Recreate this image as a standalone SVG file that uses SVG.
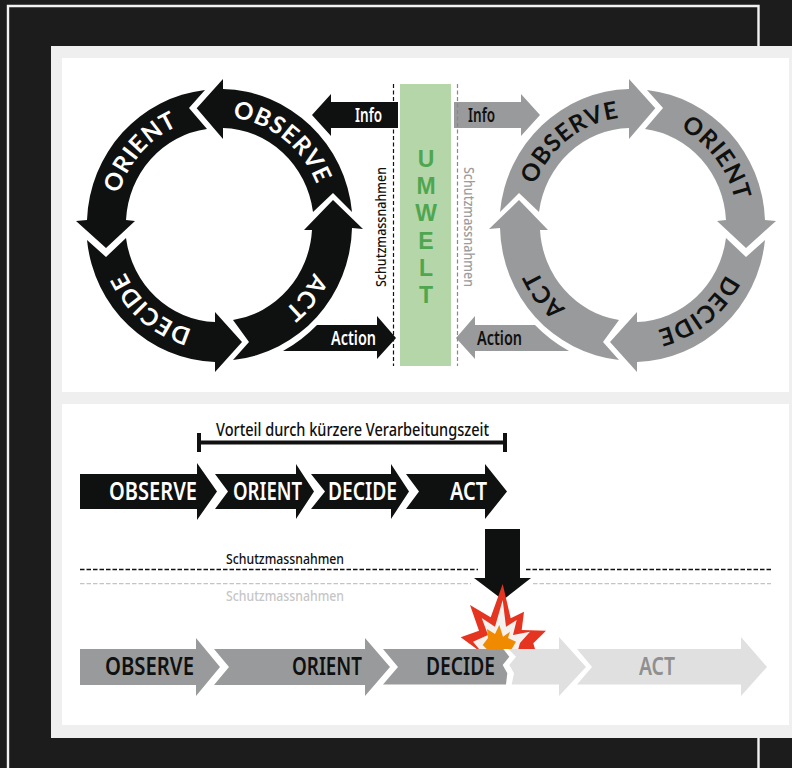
<svg xmlns="http://www.w3.org/2000/svg" width="792" height="768" viewBox="0 0 792 768">
<style>
text{font-family:"Noto Sans","Liberation Sans",sans-serif}
.ring{font-family:Lato,"Noto Sans",sans-serif;font-size:24px;font-weight:700;letter-spacing:0.800px;text-anchor:middle}
.lab{font-size:19px;font-weight:600}
.chain{font-size:25px;font-weight:600}
.prot{font-size:14px;font-weight:500}
.k{fill:#0f1010}.g{fill:#999a9b}.l{fill:#e0e0e0}.w{fill:#fff}
.um{font-family:"Liberation Sans",Arial,sans-serif;font-size:23px;font-weight:700;fill:#4fa650;text-anchor:middle}
</style>
<defs>
<path id="rl" d="M219.500,117A105,108 0 1 1 219.500,333A105,108 0 1 1 219.500,117Z"/>
<path id="rr" d="M632.500,117A105,108 0 1 1 632.500,333A105,108 0 1 1 632.500,117Z"/>
<path id="sObs" d="M196.700,108.300L223,79L223,89A133,136 0 0 1 352,212L333,193L313,212A93,97 0 0 0 223,128L223,139Z"/>
<path id="sOri" d="M189,108L205,90A133,136 0 0 0 87,220L76,221L106,248L135,221L126,220A93,97 0 0 1 207,129Z"/>
<path id="sDec" d="M87,240L106,257L126,238A93,97 0 0 0 215,322L215,312L242,342L215,372L215,362A133,136 0 0 1 87,240Z"/>
<path id="sAct" d="M233,320L249,342L233,360A133,136 0 0 0 352,228L363,229L333,200L304,230L312,230A93,97 0 0 1 233,320Z"/>
<path id="aInfo" d="M312,115L331,94L331,102L398,102L398,128L331,128L331,136Z"/>
<path id="aAction" d="M283,351A141,144 0 0 0 317,325L377,325L377,316L396,338L377,359L377,351Z"/>
</defs>
<rect width="792" height="768" fill="#1c1c1c"/>
<path d="M8,768V6H758.500V46M758.500,738V768" fill="none" stroke="#f2f2f2" stroke-width="2.400"/>
<rect x="51" y="46" width="741" height="692" fill="#efefef"/>
<rect x="62" y="58" width="727" height="334" class="w"/>
<rect x="62" y="404" width="727" height="321" class="w"/>

<g id="connectors">
<g id="info-left" class="k"><use href="#aInfo"/></g>
<g id="action-left" class="k"><use href="#aAction"/></g>
<g id="info-right" class="g"><use href="#aInfo" transform="translate(852,0) scale(-1,1)"/></g>
<g id="action-right" class="g"><use href="#aAction" transform="translate(852,0) scale(-1,1)"/></g>
<path d="M393.500,84V366" stroke="#111" stroke-width="1.200" stroke-dasharray="4 2.500" fill="none"/>
<path d="M457.500,84V366" stroke="#888" stroke-width="1.200" stroke-dasharray="4 2.500" fill="none"/>
<path d="M80,569.500H478M526,569.500H771" stroke="#111" stroke-width="1.300" stroke-dasharray="4.500 2" fill="none"/>
<path d="M80,583.700H471M533,583.700H771" stroke="#c4c4c4" stroke-width="1.300" stroke-dasharray="4.500 2" fill="none"/>
<path id="bracket" d="M199,433V452M199,442.500H505M505,433V452" stroke="#111" stroke-width="4" fill="none"/>
</g>
<text class="lab w" x="355" y="122" textLength="27" lengthAdjust="spacingAndGlyphs">Info</text>
<text class="lab w" x="331" y="345" textLength="45" lengthAdjust="spacingAndGlyphs">Action</text>
<text class="lab k" x="468" y="122" textLength="27" lengthAdjust="spacingAndGlyphs">Info</text>
<text class="lab k" x="477" y="345" textLength="45" lengthAdjust="spacingAndGlyphs">Action</text>

<g id="umwelt">
<rect x="400" y="84" width="51" height="282" fill="#b5d6a8"/>
<text class="um"><tspan x="426" y="167">U</tspan><tspan x="426" y="194.200">M</tspan><tspan x="426" y="221.400">W</tspan><tspan x="426" y="248.600">E</tspan><tspan x="426" y="275.800">L</tspan><tspan x="426" y="303">T</tspan></text>
</g>

<g id="ring-left" class="k">
<g id="l-observe"><use href="#sObs"/><text class="ring w"><textPath href="#rl" startOffset="10.400%">OBSERVE</textPath></text></g>
<g id="l-orient"><use href="#sOri"/><text class="ring w"><textPath href="#rl" startOffset="86.700%">ORIENT</textPath></text></g>
<g id="l-decide"><use href="#sDec"/><text class="ring w"><textPath href="#rl" startOffset="61%">DECIDE</textPath></text></g>
<g id="l-act"><use href="#sAct"/><text class="ring w"><textPath href="#rl" startOffset="36%">ACT</textPath></text></g>
</g>
<g id="ring-right" class="g">
<g id="r-observe"><use href="#sObs" transform="translate(852,0) scale(-1,1)"/><text class="ring k"><textPath href="#rr" startOffset="89.600%">OBSERVE</textPath></text></g>
<g id="r-orient"><use href="#sOri" transform="translate(852,0) scale(-1,1)"/><text class="ring k"><textPath href="#rr" startOffset="14.400%">ORIENT</textPath></text></g>
<g id="r-decide"><use href="#sDec" transform="translate(852,0) scale(-1,1)"/><text class="ring k"><textPath href="#rr" startOffset="39.500%">DECIDE</textPath></text></g>
<g id="r-act"><use href="#sAct" transform="translate(852,0) scale(-1,1)"/><text class="ring k"><textPath href="#rr" startOffset="64.500%">ACT</textPath></text></g>
</g>
<text class="prot k" transform="translate(386,287) rotate(-90)" textLength="120" lengthAdjust="spacingAndGlyphs">Schutzmassnahmen</text>
<text class="prot" fill="#9c9c9c" transform="translate(464,167) rotate(90)" textLength="120" lengthAdjust="spacingAndGlyphs">Schutzmassnahmen</text>

<text x="216" y="436" font-size="18" font-weight="500" class="k" textLength="273" lengthAdjust="spacingAndGlyphs">Vorteil durch kürzere Verarbeitungszeit</text>

<g id="black-observe"><path class="k" d="M80,474H197V463L217,491.500L197,520V509H80Z"/><text class="chain w" x="109" y="500" textLength="88" lengthAdjust="spacingAndGlyphs">OBSERVE</text></g>
<g id="black-orient"><path class="k" d="M215,474H296V464L314,491.500L296,519V509H215L228,491.500Z"/><text class="chain w" x="233" y="500" textLength="69" lengthAdjust="spacingAndGlyphs">ORIENT</text></g>
<g id="black-decide"><path class="k" d="M311,474H391V464L409,491.500L391,519V509H311L325,491.500Z"/><text class="chain w" x="328" y="500" textLength="69" lengthAdjust="spacingAndGlyphs">DECIDE</text></g>
<g id="black-act"><path class="k" d="M406,474H485V464L507,491.500L485,519V509H406L419,491.500Z"/><text class="chain w" x="450" y="500" textLength="37" lengthAdjust="spacingAndGlyphs">ACT</text></g>

<text class="prot k" x="226" y="564" textLength="118" lengthAdjust="spacingAndGlyphs">Schutzmassnahmen</text>
<text class="prot" fill="#c6c6c6" x="226" y="600.500" textLength="118" lengthAdjust="spacingAndGlyphs">Schutzmassnahmen</text>

<g id="gray-observe"><path class="g" d="M80,649H196V638L220,667L196,696V685H80Z"/><text class="chain k" x="105" y="675" textLength="89" lengthAdjust="spacingAndGlyphs">OBSERVE</text></g>
<g id="gray-orient"><path class="g" d="M214,649H365V638L390,667L365,696V685H214L229,667Z"/><text class="chain k" x="292" y="675" textLength="70" lengthAdjust="spacingAndGlyphs">ORIENT</text></g>
<g id="light-orient-end"><path class="l" d="M508.300,649H559V637L586,667L559,696V684.500H511.700L514,673.300L509.300,665L516,656.700Z"/></g>
<g id="gray-decide"><path class="g" d="M383,649H503.300L509.300,656.700L502.700,665L507.300,673.300L506,684.500H383L398,667Z"/><text class="chain k" x="426" y="675" textLength="69" lengthAdjust="spacingAndGlyphs">DECIDE</text></g>
<g id="light-act"><path class="l" d="M577,649H741V637L767,667L741,696V684.500H577L592,667Z"/><text class="chain" fill="#8f8f8f" x="639" y="675" textLength="36" lengthAdjust="spacingAndGlyphs">ACT</text></g>

<g id="down-arrow"><path class="k" d="M485,529H520V578H531L503,600L474,578H485Z"/></g>
<g id="explosion">
<path fill="#e53420" d="M460.700,637.300L479,630.700L470,605L490.700,617.300L502.700,584L510.700,618.300L524,611.700L521.700,630L546,630.700L533.300,643.300L535,649H476.700Z"/>
<path fill="#f4f1ee" d="M473,641.700L488,635L481.700,618L495,626.700L502.700,600L506,626.700L516.700,620L513,635L530,631.700L520,643L518.300,649H479Z"/>
<path fill="#f08a00" d="M482.700,645L488,638L487,629L495,634L499.300,625L503,636.700L510,631.700L508,638L516,641.700L511.700,649H486.700Z"/>
</g>
</svg>
